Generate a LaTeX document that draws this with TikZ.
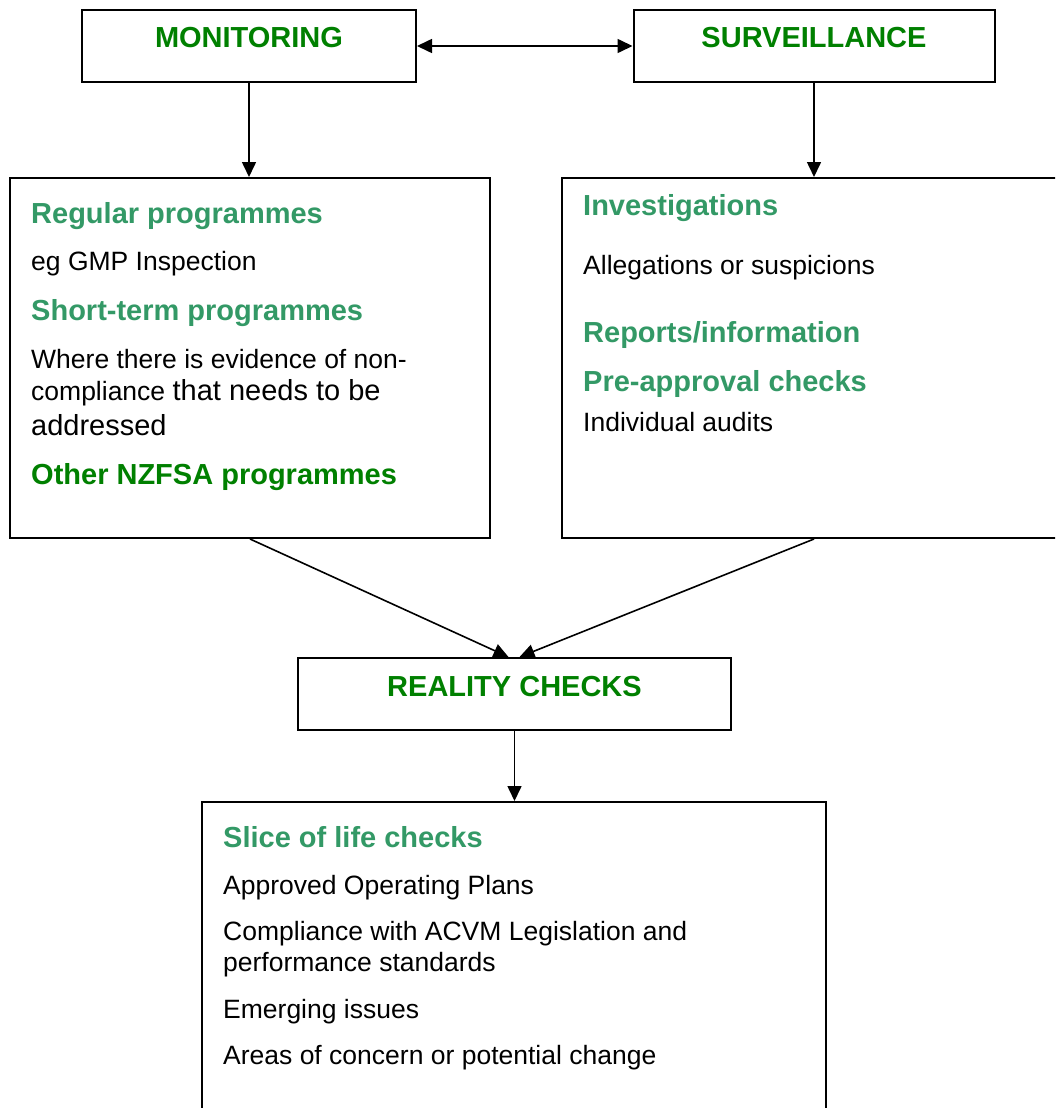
\documentclass[tikz,border=0pt]{standalone}
\usepackage{fontspec}
\setmainfont{Liberation Sans}
\usetikzlibrary{arrows.meta}
\definecolor{lgreen}{HTML}{339966}
\definecolor{dgreen}{HTML}{008000}
\tikzset{
  box/.style={draw=black, line width=2pt, fill=none, inner sep=0pt},
  conn/.style={line width=1.6pt, -{Triangle[length=15pt,width=14pt]}},
  biconn/.style={line width=1.6pt, {Triangle[length=15pt,width=14pt]}-{Triangle[length=15pt,width=14pt]}},
  txt/.style={anchor=base west, inner sep=0pt},
  head/.style={txt, text=lgreen, font=\fontsize{29}{32}\selectfont\bfseries},
  headd/.style={txt, text=dgreen, font=\fontsize{29}{32}\selectfont\bfseries},
  body/.style={txt, text=black, font=\fontsize{26.5}{32}\selectfont},
  title/.style={anchor=base, inner sep=0pt, text=dgreen, font=\fontsize{29}{32}\selectfont\bfseries}
}
\begin{document}
\begin{tikzpicture}[x=1pt,y=-1pt]
\useasboundingbox (0,0) rectangle (1055,1108);
\clip (0,0) rectangle (1055,1108);
\fill[white] (0,0) rectangle (1055,1108);
% boxes
\node[box, minimum width=334pt, minimum height=72pt] (mon) at (249,46) {};
\node[box, minimum width=361pt, minimum height=72pt] (sur) at (814,46) {};
\node[box, minimum width=480pt, minimum height=360pt] (lbox) at (250,358) {};
\node[box, minimum width=504pt, minimum height=360pt] (rbox) at (814,358) {};
\node[box, minimum width=433pt, minimum height=72pt] (rc) at (514.5,694) {};
\node[box, minimum width=624pt, minimum height=320pt] (bbox) at (514,962) {};
% titles
\node[title] (tmon) at (249,48) {MONITORING};
\node[title] (tsur) at (814,48) {SURVEILLANCE};
\node[title] (trc) at (514.5,696) {REALITY CHECKS};
% left box text
\node[head] (l1) at (31,223) {Regular programmes};
\node[body] (l2) at (31,270.5) {eg GMP Inspection};
\node[head] (l3) at (31,320) {Short-term programmes};
\node[body] (l4) at (31,368) {Where there is evidence of non-};
\node[body] (l5) at (31,400) {compliance \fontsize{29}{32}\selectfont that needs to be};
\node[txt, font=\fontsize{29}{32}\selectfont] (l6) at (31,435) {addressed};
\node[headd] (l7) at (31,484) {Other NZFSA programmes};
% right box text
\node[head] (r1) at (583,215) {Investigations};
\node[body] (r2) at (583,274) {Allegations or suspicions};
\node[head] (r3) at (583,342) {Reports/information};
\node[head] (r4) at (583,391) {Pre-approval checks};
\node[body] (r5) at (583,431) {Individual audits};
% bottom box text
\node[head] (b1) at (223,847) {Slice of life checks};
\node[body] (b2) at (223,894) {Approved Operating Plans};
\node[body] (b3) at (223,940) {Compliance with ACVM Legislation and};
\node[body] (b4) at (223,971) {performance standards};
\node[body] (b5) at (223,1018) {Emerging issues};
\node[body] (b6) at (223,1064) {Areas of concern or potential change};
% connectors
\draw[biconn] (mon.east) -- (sur.west);
\draw[conn] (mon.south) -- (mon.south |- lbox.north);
\draw[conn] (sur.south) -- (sur.south |- rbox.north);
\draw[conn] (lbox.south) -- ([xshift=-6pt]rc.north);
\draw[conn] (rbox.south) -- ([xshift=5pt]rc.north);
\draw[conn] (rc.south) -- (rc.south |- bbox.north);
\end{tikzpicture}
\end{document}
